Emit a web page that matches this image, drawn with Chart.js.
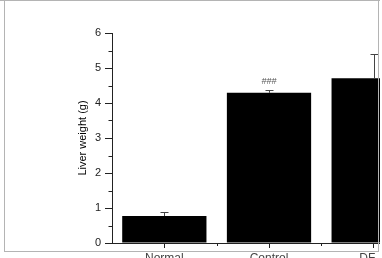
<!DOCTYPE html>
<html lang="en">
<head>
    <meta charset="UTF-8">
    <title>Liver weight</title>
    <style>
        body {
            margin: 0;
            background: #fff;
            overflow: hidden;
        }
        .clip {
            position: absolute;
            left: 0;
            top: 0;
            width: 380px;
            height: 258px;
            overflow: hidden;
        }
        .chart-box {
            position: absolute;
            left: 0;
            top: 0;
            width: 426px;
            height: 290px;
        }
    </style>
</head>
<body>
    <div class="clip">
        <div class="chart-box">
            <canvas id="chart"></canvas>
        </div>
    </div>

    <script src="https://cdn.jsdelivr.net/npm/chart.js"></script>
    <script>
        const groups = ['Normal', 'Control', 'DF-H'];
        const liverWeight = [0.77, 4.29, 4.71];
        const liverSD = [0.12, 0.09, 0.68];
        const marks = ['', '###', ''];
        const yTicks = [0, 1, 2, 3, 4, 5, 6];

        // error bars, significance marks, minor ticks and the grey frame
        const extras = {
            id: 'extras',
            afterDatasetsDraw(chart) {
                const ctx = chart.ctx;
                const x = chart.scales.x;
                const y = chart.scales.y;
                const bars = chart.getDatasetMeta(0).data;
                ctx.save();
                ctx.strokeStyle = '#444';
                ctx.lineWidth = 1;
                bars.forEach((bar, i) => {
                    const cx = Math.round(bar.x) + 0.5;
                    const top = y.getPixelForValue(liverWeight[i]);
                    const hi = Math.round(y.getPixelForValue(liverWeight[i] + liverSD[i])) + 0.5;
                    ctx.beginPath();
                    ctx.moveTo(cx, top);
                    ctx.lineTo(cx, hi);
                    ctx.moveTo(cx - 4, hi);
                    ctx.lineTo(cx + 4, hi);
                    ctx.stroke();
                    if (marks[i]) {
                        ctx.fillStyle = '#555';
                        ctx.font = 'italic 9px Arial';
                        ctx.textAlign = 'center';
                        ctx.textBaseline = 'middle';
                        ctx.fillText(marks[i], bar.x, hi - 9);
                    }
                });

                // minor ticks
                ctx.strokeStyle = '#222';
                ctx.beginPath();
                const left = Math.round(chart.chartArea.left) + 0.5;
                for (let v = 0.5; v < 6; v += 1) {
                    const py = Math.round(y.getPixelForValue(v)) + 0.5;
                    ctx.moveTo(left - 4, py);
                    ctx.lineTo(left, py);
                }
                const base = Math.round(chart.chartArea.bottom);
                for (let i = 1; i < groups.length; i++) {
                    const px = Math.round((x.getPixelForValue(i - 1) + x.getPixelForValue(i)) / 2) + 0.5;
                    ctx.moveTo(px, base);
                    ctx.lineTo(px, base + 3);
                }
                ctx.stroke();
                ctx.restore();
            },
            afterDraw(chart) {
                const ctx = chart.ctx;
                ctx.save();
                ctx.strokeStyle = '#b4b4b4';
                ctx.lineWidth = 1;
                ctx.beginPath();
                ctx.moveTo(0, 0.5);
                ctx.lineTo(380, 0.5);
                ctx.moveTo(4.5, 0);
                ctx.lineTo(4.5, 252);
                ctx.moveTo(378.5, 0);
                ctx.lineTo(378.5, 252);
                ctx.moveTo(4, 251.5);
                ctx.lineTo(379, 251.5);
                ctx.stroke();
                ctx.restore();
            }
        };

        const ctx = document.getElementById('chart').getContext('2d');
        new Chart(ctx, {
            type: 'bar',
            data: {
                labels: groups,
                datasets: [{
                    data: liverWeight,
                    backgroundColor: '#000',
                    borderWidth: 0,
                    barPercentage: 0.805,
                    categoryPercentage: 1
                }]
            },
            options: {
                responsive: true,
                maintainAspectRatio: false,
                animation: false,
                layout: { padding: { left: 0, right: 0, top: 33, bottom: 0 } },
                plugins: {
                    legend: { display: false },
                    tooltip: { enabled: false }
                },
                scales: {
                    x: {
                        afterFit(scale) { scale.height = 47; },
                        border: { color: '#222', width: 1 },
                        grid: { drawOnChartArea: false, offset: false, tickLength: 5, color: '#222' },
                        ticks: {
                            color: '#444',
                            padding: 3,
                            font: { family: 'Arial', size: 12 }
                        }
                    },
                    y: {
                        min: 0,
                        max: 6,
                        afterFit(scale) { scale.width = 112; },
                        afterBuildTicks(scale) {
                            scale.ticks = yTicks.map(v => ({ value: v }));
                        },
                        border: { color: '#222', width: 1 },
                        grid: { drawOnChartArea: false, tickLength: 7, color: '#222' },
                        ticks: {
                            color: '#222',
                            padding: 4,
                            font: { family: 'Arial', size: 11 }
                        },
                        title: {
                            display: true,
                            text: 'Liver weight (g)',
                            color: '#000',
                            font: { family: 'Arial', size: 11 },
                            padding: { top: 76, bottom: 0 }
                        }
                    }
                }
            },
            plugins: [extras]
        });
    </script>
</body>
</html>
